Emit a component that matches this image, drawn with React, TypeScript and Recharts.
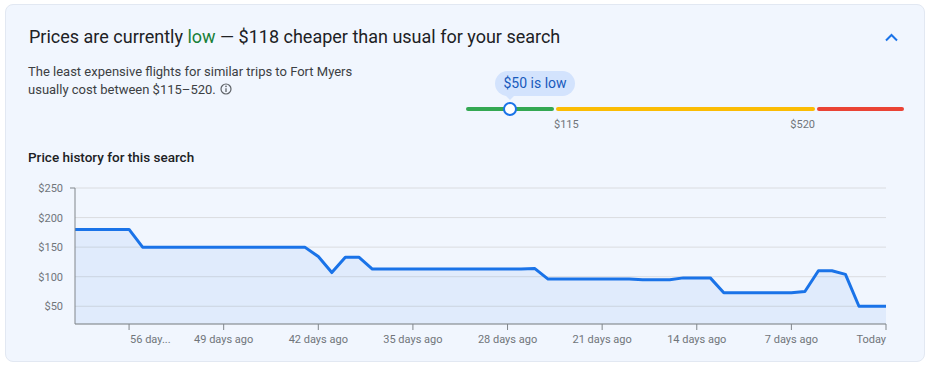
import React from 'react';
import { AreaChart, Area, XAxis, YAxis, CartesianGrid } from 'recharts';

// price history (days ago -> lowest price)
const daysAgo = [
  60, 59, 58, 57, 56, 55, 54, 53, 52, 51, 50, 49, 48, 47, 46, 45, 44, 43, 42, 41,
  40, 39, 38, 37, 36, 35, 34, 33, 32, 31, 30, 29, 28, 27, 26, 25, 24, 23, 22, 21,
  20, 19, 18, 17, 16, 15, 14, 13, 12, 11, 10, 9, 8, 7, 6, 5, 4, 3, 2, 1, 0,
];
const prices = [
  180, 180, 180, 180, 180, 150, 150, 150, 150, 150, 150, 150, 150, 150, 150, 150, 150, 150, 134, 107,
  133, 133, 113, 113, 113, 113, 113, 113, 113, 113, 113, 113, 113, 113, 114, 96, 96, 96, 96, 96,
  96, 96, 95, 95, 95, 98, 98, 98, 73, 73, 73, 73, 73, 73, 75, 110, 110, 104, 50, 50, 50,
];
const xTicks = [56, 49, 42, 35, 28, 21, 14, 7, 0];
const xTickLabels = ['56 day...', '49 days ago', '42 days ago', '35 days ago', '28 days ago', '21 days ago', '14 days ago', '7 days ago', 'Today'];
const yTicks = [50, 100, 150, 200, 250];
const usualRange = [115, 520];
const currentPrice = 50;
const savings = 118;

const chartData = daysAgo.map((d, i) => ({ daysAgo: d, price: prices[i] }));

const BLUE = '#1a73e8';
const AXIS = '#80868b';
const LABEL = '#70757a';

const XTick = ({ x, y, payload }: any) => {
  const i = xTicks.indexOf(payload.value);
  // first label hugs its tick from the left, "Today" ends at the plot edge
  const anchor = i === 0 ? 'start' : payload.value === 0 ? 'end' : 'middle';
  return (
    <text x={i === 0 ? x + 1 : x} y={y} dy={8.5} textAnchor={anchor} fill={LABEL} fontSize={11} fontFamily="Roboto">
      {xTickLabels[i]}
    </text>
  );
};

const YTick = ({ x, y, payload }: any) => (
  <g>
    {payload.value === yTicks[yTicks.length - 1] && (
      <line x1={x + 7} x2={x + 12} y1={y} y2={y} stroke={AXIS} />
    )}
    <text x={x} y={y} dy={4} textAnchor="end" fill={LABEL} fontSize={11} fontFamily="Roboto">
      ${payload.value}
    </text>
  </g>
);

const segment = (left: number, width: number, color: string) => (
  <div
    style={{
      position: 'absolute',
      left,
      top: 107,
      width,
      height: 4,
      borderRadius: 2,
      background: color,
    }}
  />
);

const App: React.FC = () => {
  return (
    <div
      style={{
        position: 'absolute',
        left: 0,
        top: 0,
        width: 928,
        height: 368,
        background: '#fff',
        fontFamily: 'Roboto, sans-serif',
        color: '#202124',
      }}
    >
      <div
        style={{
          position: 'absolute',
          left: 5,
          top: 4,
          width: 918,
          height: 356,
          borderRadius: 8,
          border: '1px solid #e2e8f2',
          background: '#f1f6fe',
        }}
      />

      {/* header */}
      <div style={{ position: 'absolute', left: 29, top: 25, fontSize: 18, lineHeight: '24px', whiteSpace: 'nowrap' }}>
        Prices are currently <span style={{ color: '#188038' }}>low</span> — ${savings} cheaper than usual for your search
      </div>
      <svg style={{ position: 'absolute', left: 884, top: 31 }} width={16} height={14}>
        <polyline points="2,9.5 7.5,4 13,9.5" fill="none" stroke={BLUE} strokeWidth={2} />
      </svg>

      <div style={{ position: 'absolute', left: 28, top: 63, fontSize: 13, lineHeight: '18px', color: '#3c4043', width: 360 }}>
        The least expensive flights for similar trips to Fort Myers
        <br />
        usually cost between ${usualRange[0]}–{usualRange[1]}.
        <svg width={12} height={12} style={{ marginLeft: 4, verticalAlign: '-1px' }}>
          <circle cx={6} cy={6} r={5} fill="none" stroke="#5f6368" strokeWidth={1.2} />
          <line x1={6} x2={6} y1={5.2} y2={9} stroke="#5f6368" strokeWidth={1.3} />
          <circle cx={6} cy={3.4} r={0.8} fill="#5f6368" />
        </svg>
      </div>

      {/* usual price gauge */}
      {segment(466, 88, '#34a853')}
      {segment(556, 259, '#fbbc04')}
      {segment(817, 87, '#ea4335')}
      <div
        style={{
          position: 'absolute',
          left: 495,
          top: 71,
          width: 80,
          height: 25,
          borderRadius: 12.5,
          background: '#d3e3fd',
          color: '#185abc',
          fontSize: 14,
          lineHeight: '25px',
          textAlign: 'center',
        }}
      >
        ${currentPrice} is low
      </div>
      <svg style={{ position: 'absolute', left: 504, top: 95 }} width={12} height={8}>
        <polygon points="1,0 11,0 6,5" fill="#d3e3fd" />
      </svg>
      <div
        style={{
          position: 'absolute',
          left: 503,
          top: 102,
          width: 10,
          height: 10,
          borderRadius: '50%',
          border: `2.5px solid ${BLUE}`,
          background: '#fff',
        }}
      />
      <div style={{ position: 'absolute', left: 554, top: 118, fontSize: 11, color: LABEL }}>${usualRange[0]}</div>
      <div style={{ position: 'absolute', left: 715, top: 118, width: 100, textAlign: 'right', fontSize: 11, color: LABEL }}>
        ${usualRange[1]}
      </div>

      <div style={{ position: 'absolute', left: 28, top: 149, fontSize: 13.5, lineHeight: '16px', fontWeight: 500 }}>
        Price history for this search
      </div>

      <div style={{ position: 'absolute', left: 0, top: 170 }}>
        <AreaChart width={928} height={190} data={chartData} margin={{ top: 18, right: 42, left: 15, bottom: 6 }}>
          <CartesianGrid vertical={false} stroke="#dadce0" />
          <XAxis
            type="number"
            dataKey="daysAgo"
            domain={[0, 60]}
            reversed
            ticks={xTicks}
            interval={0}
            height={30}
            tickSize={6}
            tickMargin={4}
            stroke={AXIS}
            tick={<XTick />}
          />
          <YAxis
            domain={[20, 250]}
            ticks={yTicks}
            width={60}
            tickSize={6}
            tickMargin={6}
            tickLine={false}
            stroke={AXIS}
            tick={<YTick />}
          />
          <Area
            type="linear"
            dataKey="price"
            stroke={BLUE}
            strokeWidth={3}
            strokeLinejoin="round"
            fill={BLUE}
            fillOpacity={0.08}
            dot={false}
            activeDot={false}
            isAnimationActive={false}
          />
        </AreaChart>
      </div>
    </div>
  );
};

export default App;
